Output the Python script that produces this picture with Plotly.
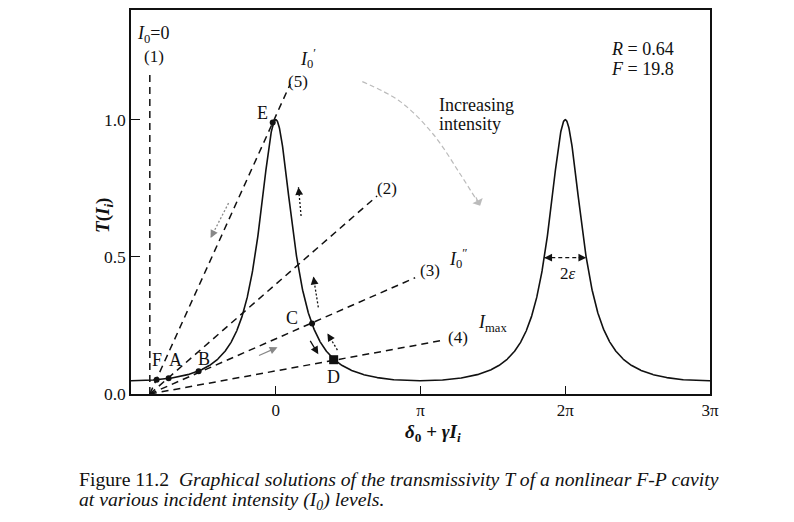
import numpy as np
import plotly.graph_objects as go

# ---- data (x in units of pi) ----
F_coef = 19.8
R_val = 0.64
delta0 = -0.87
x_curve = np.linspace(-1.0, 3.0, 2001)
T_curve = 1.0 / (1.0 + F_coef * np.sin(np.pi * x_curve / 2.0) ** 2)

# load lines from delta0: end points (x, T)
line_names = ["(5)", "(2)", "(3)", "(4)"]
line_end_x = [0.10, 0.70, 0.963, 1.157]
line_end_y = [1.13, 0.722, 0.424, 0.196]
line1_top = 1.18

# solution points
pt_labels = ["F", "A", "B", "C", "E"]
pt_x = [-0.823, -0.740, -0.533, 0.251, -0.021]
pt_y = [0.052, 0.057, 0.083, 0.257, 0.99]
D_x, D_y = [0.40], [0.125]

fwhm_half = 0.145
x_tickvals = [0, 1, 2, 3]
x_ticktext = ["0", "π", "2π", "3π"]
y_tickvals = [0.0, 0.5, 1.0]
y_ticktext = ["0.0", "0.5", "1.0"]

SERIF = "Liberation Serif"
INK = "#111111"

L, R, TOP, B = 131, 84, 8, 128
W, H = 794, 522
pw, ph = W - L - R, H - TOP - B
XS = pw / 4.0      # px per x unit
YS = ph / 1.4      # px per y unit

DASH = "7px,5px"

fig = go.Figure()
fig.add_trace(go.Scatter(x=x_curve, y=T_curve, mode="lines",
                         line=dict(color=INK, width=1.6), hoverinfo="skip"))
fig.add_trace(go.Scatter(x=[delta0, delta0], y=[0, line1_top], mode="lines",
                         line=dict(color=INK, width=1.5, dash=DASH)))
for xe, ye in zip(line_end_x, line_end_y):
    fig.add_trace(go.Scatter(x=[delta0, xe], y=[0, ye], mode="lines",
                             line=dict(color=INK, width=1.5, dash=DASH)))
fig.add_trace(go.Scatter(x=pt_x, y=pt_y, mode="markers",
                         marker=dict(color=INK, size=6)))
fig.add_trace(go.Scatter(x=D_x, y=D_y, mode="markers",
                         marker=dict(color=INK, size=9, symbol="square")))

# arrows: (tail_x, tail_y, head_x, head_y, color, dash)
arrows = [
    (-0.326, 0.696, -0.450, 0.569, "#888888", "dot"),
    (0.175, 0.649, 0.157, 0.754, INK, "dot"),
    (0.294, 0.316, 0.260, 0.428, INK, "dot"),
    (0.426, 0.160, 0.357, 0.221, INK, "dot"),
    (0.232, 0.199, 0.294, 0.145, INK, "solid"),
    (-0.126, 0.138, 0.012, 0.170, "#888888", "solid"),
]
ann = []
for tx, ty, hx, hy, col, ds in arrows:
    dxp = (tx - hx) * XS
    dyp = -(ty - hy) * YS
    if ds == "dot":
        fig.add_trace(go.Scatter(x=[tx, hx], y=[ty, hy], mode="lines",
                                 line=dict(color=col, width=1.3, dash="2px,2px")))
        n = (dxp ** 2 + dyp ** 2) ** 0.5
        dxp, dyp = dxp / n * 9, dyp / n * 9
    ann.append(dict(x=hx, y=hy, ax=dxp, ay=dyp, xref="x", yref="y", text="",
                    showarrow=True, arrowhead=2, arrowsize=1.2, arrowwidth=1.3,
                    arrowcolor=col))

# 2 epsilon double arrow
fig.add_trace(go.Scatter(x=[2 - fwhm_half, 2 + fwhm_half], y=[0.497, 0.497], mode="lines",
                         line=dict(color=INK, width=1.3, dash="4px,3px")))
for sgn in (-1, 1):
    hx = 2 + sgn * fwhm_half
    ann.append(dict(x=hx, y=0.497, ax=-sgn * 9, ay=0, xref="x", yref="y",
                    text="", showarrow=True, arrowhead=2,
                    arrowsize=1.2, arrowwidth=1.3, arrowcolor=INK))

# curved "increasing intensity" arrow
cx = [0.598, 0.860, 1.088, 1.274, 1.412]
cy = [1.139, 1.066, 0.947, 0.802, 0.686]
fig.add_trace(go.Scatter(x=cx, y=cy, mode="lines",
                         line=dict(color="#bbbbbb", width=1.2, dash="5px,3px", shape="spline")))
ann.append(dict(x=cx[-1], y=cy[-1], ax=-5, ay=-10, xref="x", yref="y",
                text="", showarrow=True, arrowhead=1,
                arrowsize=1.6, arrowwidth=1.2, arrowcolor="#bbbbbb"))

def T(x, y, s, size=18, **kw):
    d = dict(x=x, y=y, xref="x", yref="y", text=s, showarrow=False,
             xanchor="center", yanchor="middle",
             font=dict(family=SERIF, size=size, color=INK))
    d.update(kw)
    ann.append(d)

T(-0.849, 1.309, "<i>I</i><sub>0</sub>=0")
T(-0.843, 1.230, "(1)", 17)
T(0.225, 1.222, "<i>I</i><sub>0</sub><sup>′</sup>")
T(0.157, 1.139, "(5)", 17)
T(-0.092, 1.023, "E")
T(0.770, 0.751, "(2)", 17)
T(1.067, 0.450, "(3)", 17)
T(1.265, 0.493, "<i>I</i><sub>0</sub><sup>″</sup>")
T(1.260, 0.207, "(4)", 17)
T(1.495, 0.258, "<i>I</i><sub>max</sub>")
T(2.019, 0.439, "2<i>ε</i>", 17)
T(0.115, 0.276, "C")
T(0.398, 0.062, "D")
for lab, lx, ly in zip(["F", "A", "B"], [-0.820, -0.690, -0.499], [0.123, 0.123, 0.127]):
    T(lx, ly, lab)
T(2.301, 1.259, "<i>R</i> = %.2f" % R_val, xanchor="left")
T(2.301, 1.186, "<i>F</i> = %.1f" % F_coef, xanchor="left")
T(1.115, 1.055, "Increasing", xanchor="left")
T(1.115, 0.983, "intensity", xanchor="left")
T(delta0, -0.048, "<i>δ</i><sub>0</sub>", 17)

def paper(px, py):
    return (px - L) / pw, (H - B - py) / ph

ax_t = paper(433, 433)
ann.append(dict(x=ax_t[0], y=ax_t[1], xref="paper", yref="paper", showarrow=False,
                xanchor="center", yanchor="middle",
                text="<b><i>δ</i><sub>0</sub> + <i>γI</i><sub><i>i</i></sub></b>",
                font=dict(family=SERIF, size=19, color=INK)))
ay_t = paper(104, 215)
ann.append(dict(x=ay_t[0], y=ay_t[1], xref="paper", yref="paper", showarrow=False,
                xanchor="center", yanchor="middle", textangle=-90,
                text="<b><i>T</i>(<i>I</i><sub><i>i</i></sub>)</b>",
                font=dict(family=SERIF, size=19, color=INK)))
c1 = paper(77, 479)
ann.append(dict(x=c1[0], y=c1[1], xref="paper", yref="paper", showarrow=False,
                xanchor="left", yanchor="middle",
                text="Figure 11.2  <i>Graphical solutions of the transmissivity T of a nonlinear F-P cavity</i>",
                font=dict(family=SERIF, size=19.7, color=INK)))
c2 = paper(77, 501)
ann.append(dict(x=c2[0], y=c2[1], xref="paper", yref="paper", showarrow=False,
                xanchor="left", yanchor="middle",
                text="<i>at various incident intensity (I<sub>0</sub>) levels.</i>",
                font=dict(family=SERIF, size=19.7, color=INK)))

fig.update_layout(
    width=W, height=H, margin=dict(l=L, r=R, t=TOP, b=B),
    paper_bgcolor="white", plot_bgcolor="white", showlegend=False,
    annotations=ann,
    xaxis=dict(range=[-1, 3], tickvals=x_tickvals, ticktext=x_ticktext,
               ticks="inside", ticklen=8, tickcolor=INK, showgrid=False, zeroline=False,
               showline=True, mirror=True, linecolor=INK, linewidth=1.5,
               tickfont=dict(family=SERIF, size=17, color=INK)),
    yaxis=dict(range=[0, 1.4], tickvals=y_tickvals, ticktext=y_ticktext,
               ticks="inside", ticklen=9, tickcolor=INK, showgrid=False, zeroline=False,
               showline=True, mirror=True, linecolor=INK, linewidth=1.5,
               tickfont=dict(family=SERIF, size=17.5, color=INK)),
)
fig.write_html("out.html")
